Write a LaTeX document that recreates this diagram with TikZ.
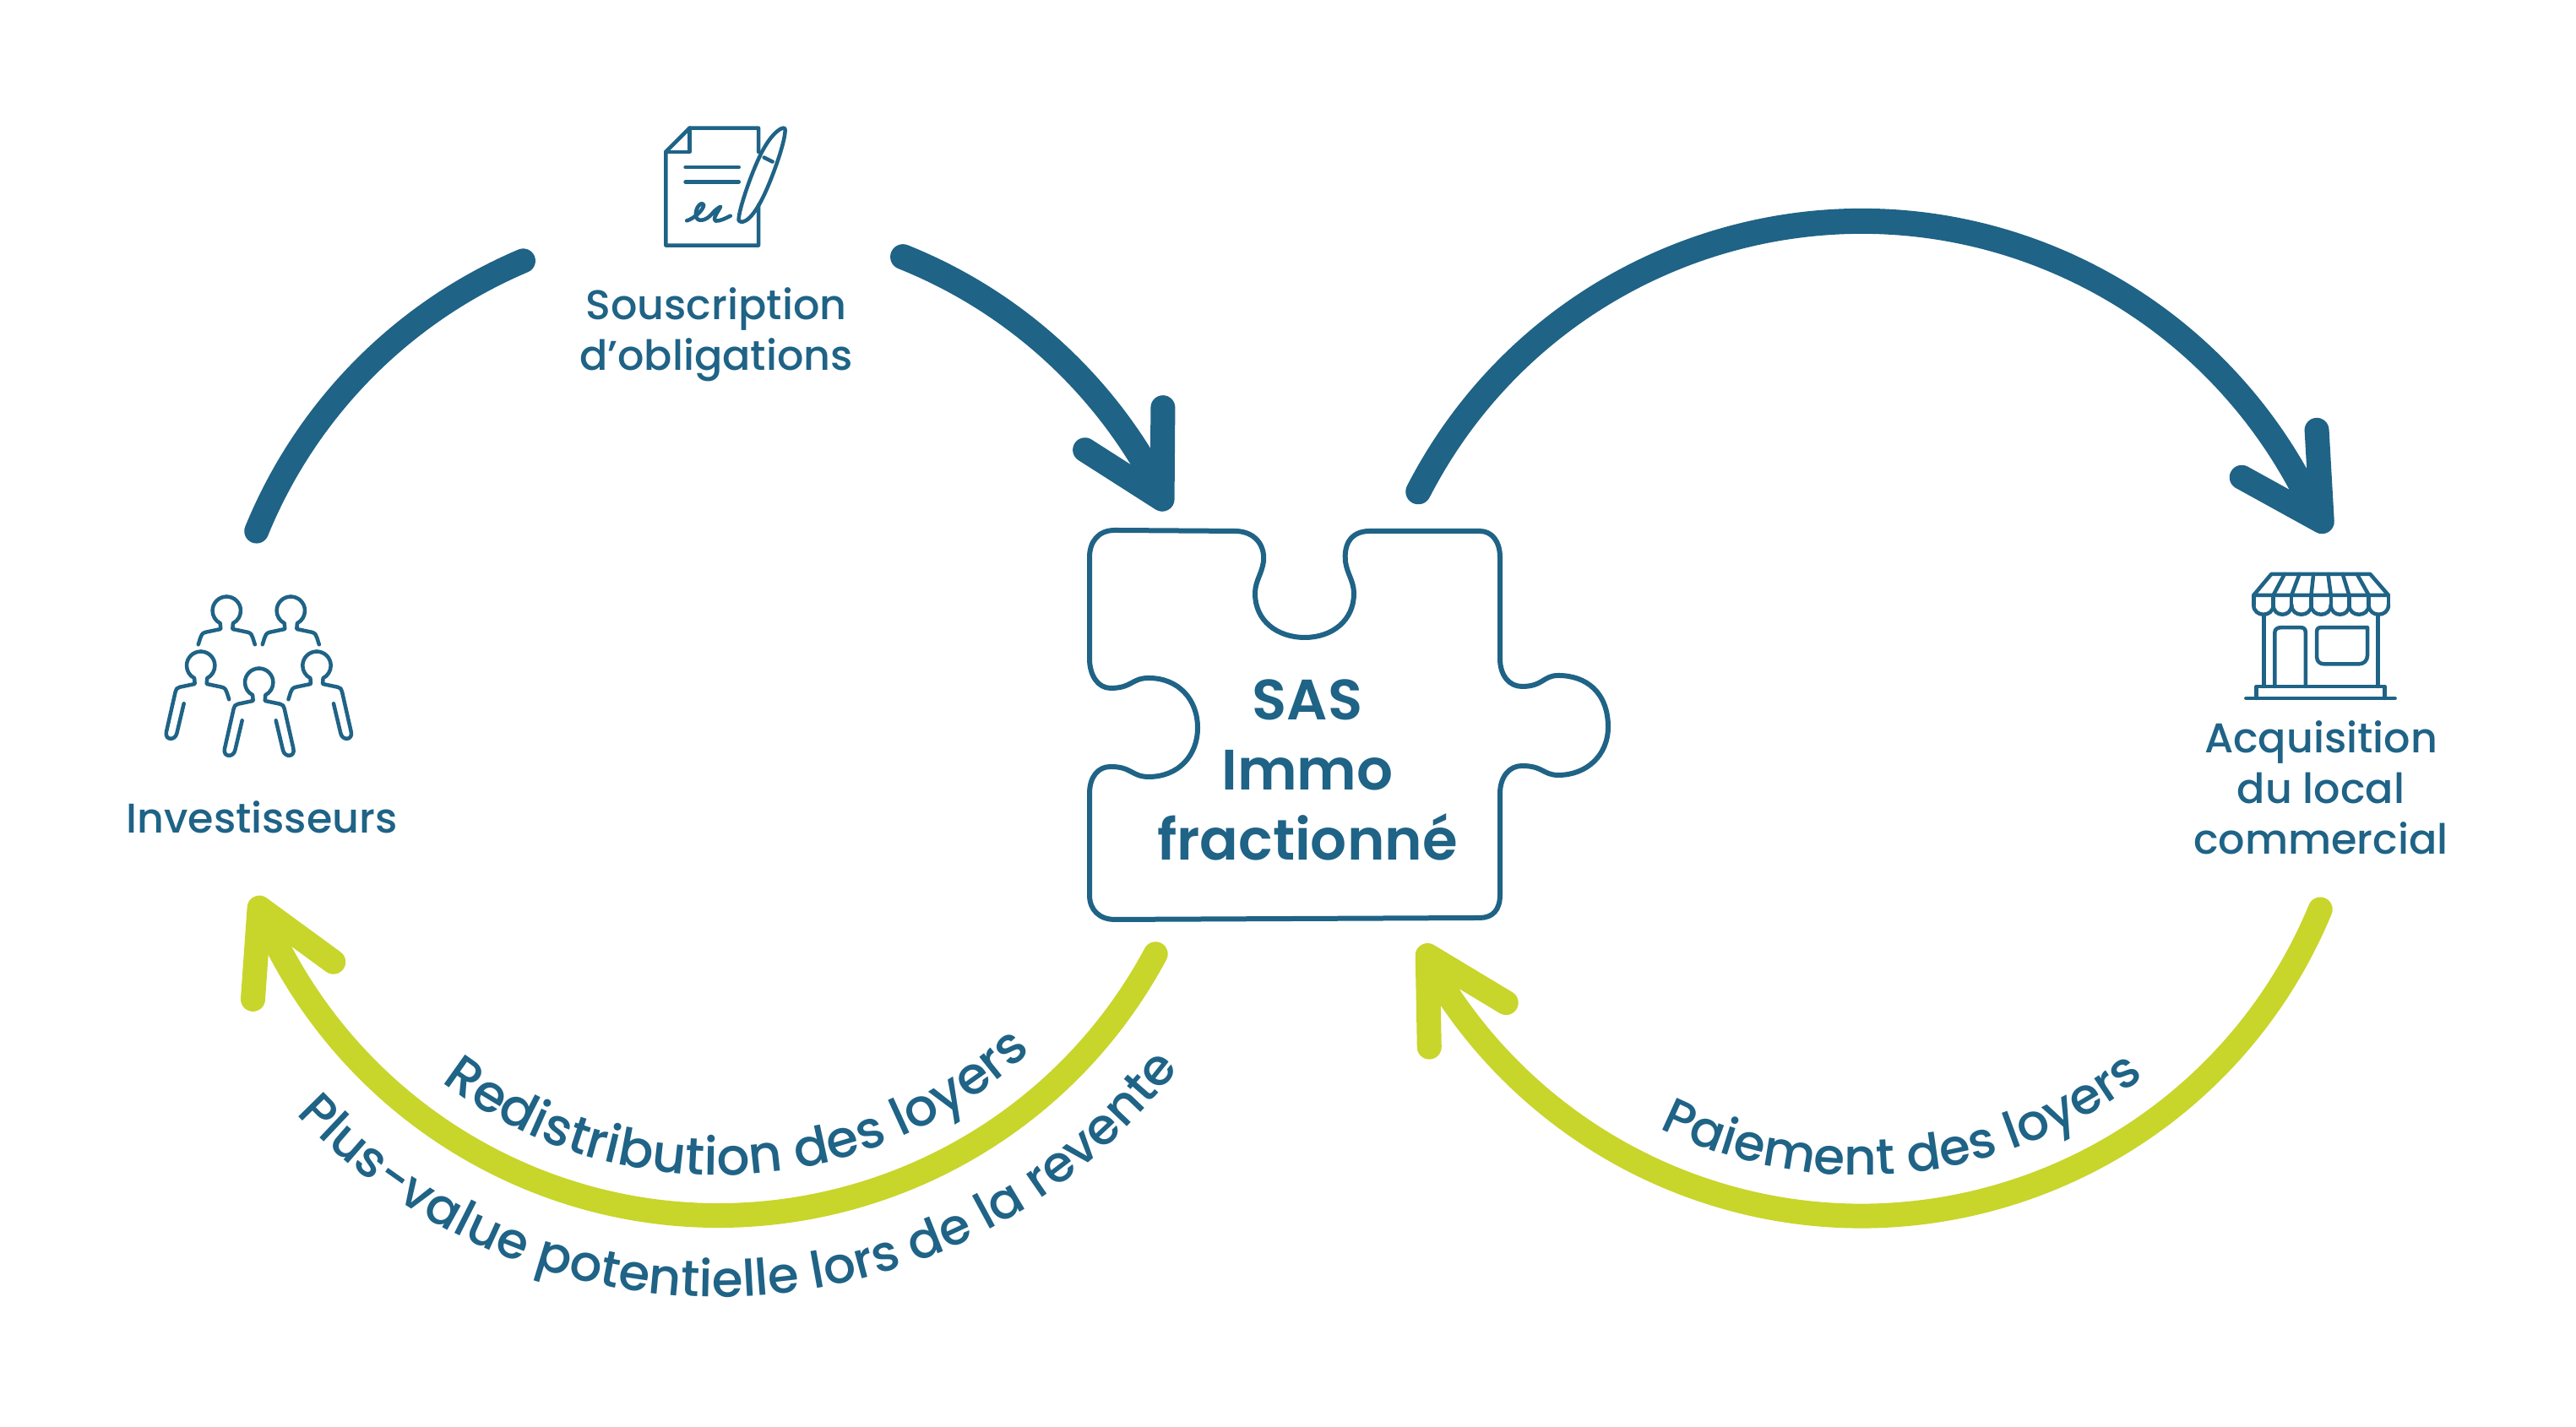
\documentclass[tikz,border=0pt]{standalone}
\usepackage{fontspec}
\usetikzlibrary{arrows.meta,bending,decorations.text}
\setmainfont{Poppins Medium}
\newfontfamily\boldfont{Poppins SemiBold}
\definecolor{sasblue}{HTML}{1F6386}
\definecolor{sasgreen}{HTML}{C8D52B}
\newcommand{\curvefont}{\color{sasblue}\fontsize{17}{20}\selectfont}
\newcommand{\curvewide}{\color{sasblue}\fontsize{17.5}{20}\selectfont}
\tikzset{
    bluearc/.style={draw=sasblue, line width=0.3cm, line cap=round, line join=round},
    greenarc/.style={draw=sasgreen, line width=0.29cm, line cap=round, line join=round},
    headtip/.style={-{Straight Barb[quick,round,length=0.95cm,width=1.05cm,line width=0.29cm]}},
    iconline/.style={draw=sasblue, line width=0.045cm, line cap=round, line join=round},
    iconlabel/.style={text=sasblue, font=\fontsize{14}{17}\selectfont, align=center},
    shortside/.pic={
        \draw[iconline] (0,0.167) arc[start angle=90, end angle=-63, radius=0.167]
            -- (0.07,-0.217) -- (0.25,-0.255) .. controls (0.29,-0.265) and (0.3,-0.29) .. (0.31,-0.32) -- (0.335,-0.4);
    },
    longside/.pic={
        \draw[iconline] (0,0.167) arc[start angle=90, end angle=-63, radius=0.167]
            -- (0.07,-0.217) -- (0.25,-0.255) .. controls (0.28,-0.26) and (0.295,-0.28) .. (0.3,-0.31)
            -- (0.407,-0.783) .. controls (0.43,-0.89) and (0.3,-0.89) .. (0.283,-0.8) -- (0.2,-0.45);
    },
}

\begin{document}
\begin{tikzpicture}
    \useasboundingbox (0,0) rectangle (30.5,16.9);
    \coordinate (leftc) at (8.5,8.38);
    \coordinate (rightc) at (22.04,8.38);

    % arcs
    \coordinate (investend) at ([shift={(157.8:5.9)}]leftc);
    \coordinate (souscrend) at ([shift={(68.2:5.9)}]leftc);
    \coordinate (sasin) at (13.83,10.86);
    \coordinate (sasout) at ([shift={(152.8:5.9)}]rightc);
    \coordinate (localin) at (27.57,10.60);
    \coordinate (localout) at ([shift={(-22.5:5.88)}]rightc);
    \coordinate (sasback) at (16.83,5.71);
    \coordinate (sasgive) at ([shift={(-28.2:5.88)}]leftc);
    \coordinate (investin) at (3.01,6.28);
    \draw[bluearc, line width=0.29cm] (investend) arc[start angle=157.8, end angle=113, radius=5.9];
    \draw[bluearc, headtip] (souscrend) arc[start angle=68.2, end angle=31, radius=5.87]
        -- ([shift={(118.5:0.5)}]sasin) -- (sasin);
    \draw[bluearc, headtip] (sasout) arc[start angle=152.8, end angle=28, radius=5.9]
        -- ([shift={(122.2:0.5)}]localin) -- (localin);
    \draw[greenarc, headtip] (localout) arc[start angle=-22.5, end angle=-146, radius=5.88]
        -- ([shift={(300:0.5)}]sasback) -- (sasback);
    \draw[greenarc, headtip] (sasgive) arc[start angle=-28.2, end angle=-153, radius=5.87]
        -- ([shift={(294.9:0.5)}]investin) -- (investin);

    % puzzle piece
    \draw[draw=sasblue, line width=0.06cm, line join=round] (12.9,10.3)
        .. controls (12.9,10.48) and (13.0,10.62) .. (13.2,10.62)
        -- (14.62,10.61) .. controls (14.85,10.61) and (14.98,10.45) .. (14.96,10.25)
        .. controls (14.94,10.1) and (14.86,10.02) .. (14.86,9.87)
        .. controls (14.86,9.55) and (15.12,9.35) .. (15.45,9.35)
        .. controls (15.77,9.35) and (16.03,9.55) .. (16.03,9.87)
        .. controls (16.03,10.02) and (15.95,10.1) .. (15.93,10.25)
        .. controls (15.91,10.45) and (15.99,10.61) .. (16.22,10.61)
        -- (17.52,10.61) .. controls (17.67,10.61) and (17.76,10.48) .. (17.76,10.3)
        -- (17.76,9.1) .. controls (17.76,8.9) and (17.87,8.77) .. (18.02,8.77)
        .. controls (18.27,8.77) and (18.27,8.9) .. (18.45,8.9)
        .. controls (18.78,8.9) and (19.04,8.7) .. (19.04,8.29)
        .. controls (19.04,7.95) and (18.78,7.72) .. (18.45,7.72)
        .. controls (18.27,7.72) and (18.27,7.83) .. (18.02,7.83)
        .. controls (17.87,7.83) and (17.76,7.7) .. (17.76,7.5)
        -- (17.76,6.3) .. controls (17.76,6.12) and (17.67,6.03) .. (17.52,6.03)
        -- (13.2,6.01) .. controls (13.02,6.01) and (12.9,6.12) .. (12.9,6.3)
        -- (12.9,7.5) .. controls (12.9,7.7) and (13.0,7.82) .. (13.15,7.82)
        .. controls (13.4,7.82) and (13.4,7.7) .. (13.6,7.7)
        .. controls (13.95,7.7) and (14.18,7.95) .. (14.18,8.28)
        .. controls (14.18,8.62) and (13.95,8.87) .. (13.6,8.87)
        .. controls (13.4,8.87) and (13.4,8.75) .. (13.15,8.75)
        .. controls (13.0,8.75) and (12.9,8.9) .. (12.9,9.1) -- cycle;
    \node[text=sasblue, align=center, font=\boldfont\fontsize{19.2}{23.5}\selectfont] (sas) at (15.48,7.78) {SAS\\Immo\\fractionné};

    % people
    \foreach \hx/\hy/\lside/\rside in {2.683/9.667/shortside/shortside, 3.443/9.667/shortside/shortside,
        2.377/9.017/longside/shortside, 3.75/9.017/shortside/longside, 3.067/8.817/longside/longside} {
        \pic[xscale=-1] at (\hx,\hy) {\lside};
        \pic at (\hx,\hy) {\rside};
    }
    \node[iconlabel] (invest) at (3.1,7.22) {Investisseurs};

    % contract
    \begin{scope}[shift={(7.6,15.6)}, x=0.00333cm, y=-0.00333cm]
        \draw[iconline] (415,150) -- (415,65) -- (170,65) -- (85,150) -- (85,483) -- (415,483) -- (415,340);
        \draw[iconline] (170,65) -- (170,150) -- (85,150);
        \draw[iconline] (155,205) -- (345,205);
        \draw[iconline] (155,257) -- (345,257);
        \draw[iconline] (160,395) .. controls (185,388) and (222,355) .. (220,338)
            .. controls (215,325) and (190,345) .. (192,375)
            .. controls (194,405) and (230,395) .. (250,370)
            .. controls (262,355) and (272,350) .. (280,345)
            .. controls (270,365) and (250,390) .. (262,396)
            .. controls (280,397) and (300,385) .. (315,378);
        \draw[iconline] (505,65) .. controls (520,60) and (500,150) .. (450,270)
            .. controls (400,390) and (360,410) .. (345,395)
            .. controls (340,370) and (390,220) .. (430,145)
            .. controls (460,90) and (490,65) .. (505,65);
        \draw[iconline] (435,170) -- (465,185);
    \end{scope}
    \node[iconlabel] (souscr) at (8.48,12.94) {Souscription\\d’obligations};

    % shop
    \begin{scope}[shift={(26.5,10.3)}, x=0.00333cm, y=-0.00333cm]
        \draw[iconline] (55,135) -- (118,60) -- (470,60) -- (535,135) -- cycle;
        \foreach \topx/\botx in {165/125, 218/190, 268/260, 320/330, 372/395, 423/465} {
            \draw[iconline] (\topx,60) -- (\botx,135);
        }
        \draw[iconline] (55,135) -- (55,170);
        \foreach \botx in {125,190,260,330,395,465,535} {
            \draw[iconline] (\botx,135) -- (\botx,170);
        }
        \foreach \botx/\nextx in {55/125,125/190,190/260,260/330,330/395,395/465,465/535} {
            \draw[iconline] (\botx,170) .. controls (\botx,215) and (\nextx,215) .. (\nextx,170);
        }
        \draw[iconline] (92,205) -- (92,460);
        \draw[iconline] (497,205) -- (497,460);
        \draw[iconline] (130,460) -- (130,270) .. controls (130,255) and (140,250) .. (155,250)
            -- (220,250) .. controls (235,250) and (240,255) .. (240,270) -- (240,460);
        \draw[iconline] (280,265) .. controls (280,255) and (285,250) .. (295,250)
            -- (460,250) -- (460,350) .. controls (460,370) and (445,380) .. (430,380)
            -- (305,380) .. controls (290,380) and (280,370) .. (280,355) -- cycle;
        \draw[iconline] (65,502) -- (65,460) -- (522,460) -- (522,502);
        \draw[iconline] (28,502) -- (558,502);
    \end{scope}
    \node[iconlabel] (local) at (27.48,7.57) {Acquisition\\du local\\commercial};

    % curved labels
    \path[decorate, decoration={text along path, text align=center, text={|\curvewide|Redistribution des loyers}}]
        ([shift={(-132:5.4)}]leftc) arc[start angle=-132, end angle=-42, radius=5.4];
    \path[decorate, decoration={text along path, text align=center, text={|\curvefont|Plus-value potentielle lors de la revente}}]
        ([shift={(-143:6.84)}]leftc) arc[start angle=-143, end angle=-31, radius=6.84];
    \path[decorate, decoration={text along path, text align=center, text={|\curvefont|Paiement des loyers}}]
        ([shift={(-124:5.4)}]rightc) arc[start angle=-124, end angle=-44, radius=5.4];
\end{tikzpicture}
\end{document}
